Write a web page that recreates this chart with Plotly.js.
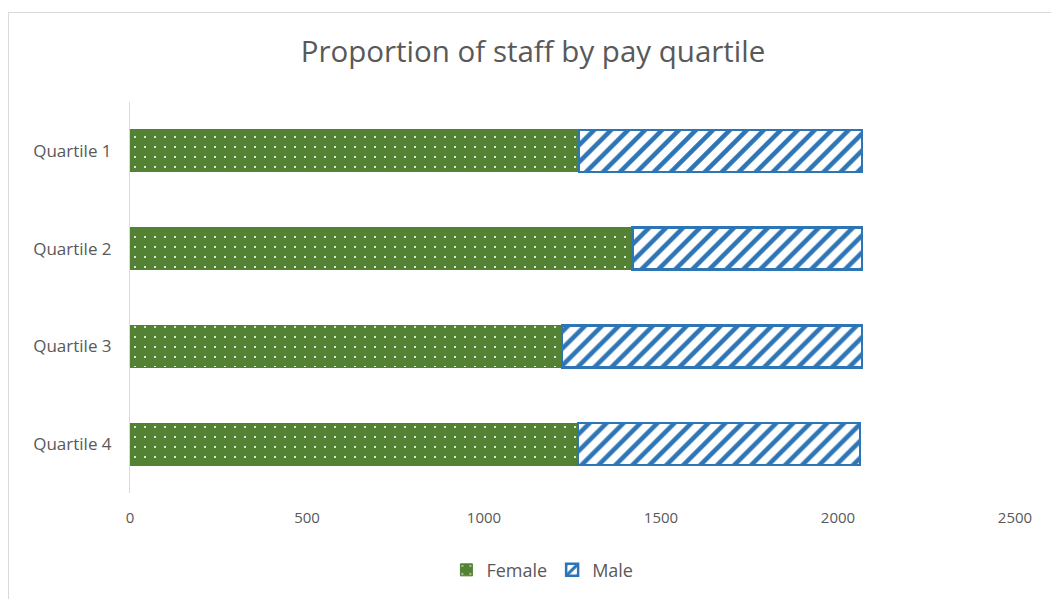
<!DOCTYPE html>
<html>
<head>
<meta charset="utf-8">
<script src="https://cdn.plot.ly/plotly-3.0.1.min.js"></script>
<style>
  html, body { margin: 0; padding: 0; background: #fff; overflow: hidden; }
  #chart { position: absolute; left: 8px; top: 12px; width: 1050px; height: 590px; border: 1px solid #d9d9d9; box-sizing: border-box; }
</style>
</head>
<body>
<div id="chart"></div>
<script>
const categories = ["Quartile 1", "Quartile 2", "Quartile 3", "Quartile 4"];
const female = [1268, 1419, 1221, 1266];
const male = [800, 649, 847, 796];
const xTicks = [0, 500, 1000, 1500, 2000, 2500];

const fontFam = "'Open Sans', sans-serif";
const grey = "#595959";

const traces = [
  {
    type: "bar", orientation: "h", name: "Female",
    y: categories, x: female,
    marker: {
      color: "#548235",
      line: { color: "#548235", width: 1 },
      pattern: { shape: ".", fgcolor: "#ffffff", bgcolor: "#548235", size: 10, solidity: 0.035, fillmode: "replace" }
    },
    hoverinfo: "x+name"
  },
  {
    type: "bar", orientation: "h", name: "Male",
    y: categories, x: male,
    marker: {
      color: "#ffffff",
      line: { color: "#2E75B6", width: 2.5 },
      pattern: { shape: "/", fgcolor: "#2E75B6", bgcolor: "#ffffff", size: 12, solidity: 0.38, fillmode: "replace" }
    },
    hoverinfo: "x+name"
  }
];

const layout = {
  width: 1048, height: 588,
  margin: { l: 121, r: 42, t: 89, b: 104 },
  paper_bgcolor: "#ffffff", plot_bgcolor: "#ffffff",
  barmode: "stack", bargap: 0.57,
  font: { family: fontFam, color: grey, size: 14 },
  title: {
    text: "Proportion of staff by pay quartile",
    font: { family: fontFam, size: 29.5, color: grey },
    x: 0.5, xanchor: "center", y: 0.935, yanchor: "middle"
  },
  xaxis: {
    range: [0, 2500], tickvals: xTicks, ticktext: xTicks.map(String),
    showgrid: false, zeroline: false, showline: false, ticks: "",
    tickfont: { family: fontFam, size: 15, color: grey }, ticklabelstandoff: 14,
    fixedrange: true
  },
  yaxis: {
    categoryorder: "array", categoryarray: categories, autorange: "reversed",
    showgrid: false, zeroline: false, showline: true, linecolor: "#d9d9d9", linewidth: 1,
    ticks: "", tickfont: { family: fontFam, size: 17, color: grey }, ticklabelstandoff: 14,
    fixedrange: true
  },
  legend: {
    orientation: "h", x: 0.466, xanchor: "center", y: -0.15, yanchor: "top",
    font: { family: fontFam, size: 18, color: grey }, traceorder: "normal",
    itemwidth: 30
  },
  showlegend: true
};

Plotly.newPlot("chart", traces, layout, { displayModeBar: false, staticPlot: true });
</script>
</body>
</html>
